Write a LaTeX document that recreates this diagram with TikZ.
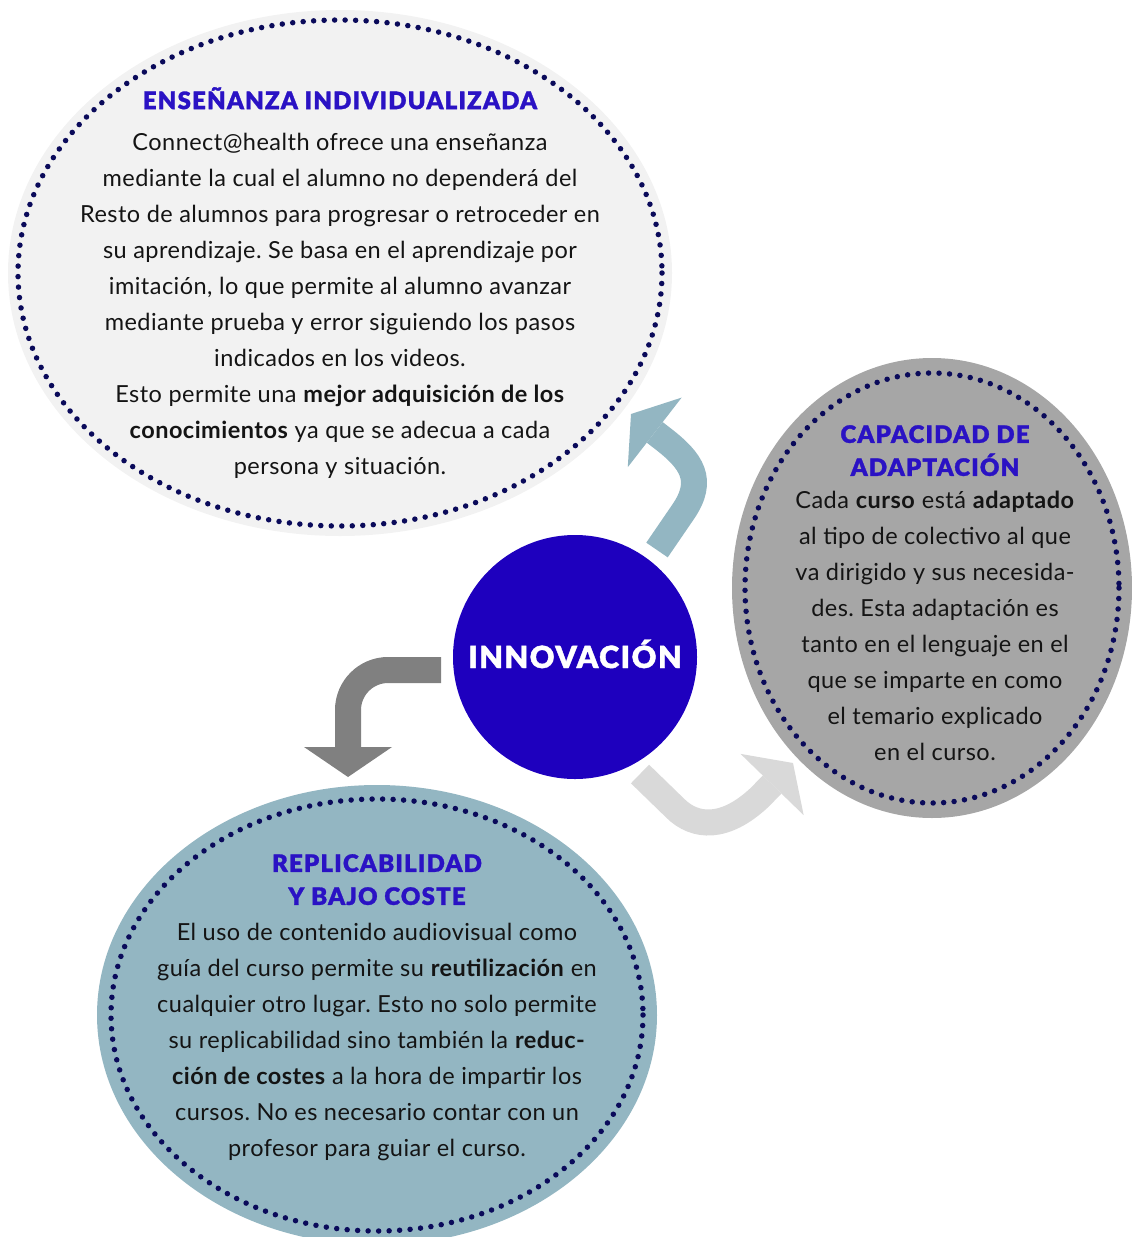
\documentclass[tikz,border=0pt]{standalone}
\usepackage{fontspec}
\setmainfont{Lato}[LetterSpace=2]
\newfontfamily\heavyfont{Lato Black}[LetterSpace=5,FakeBold=1.2]
\usetikzlibrary{arrows.meta,shapes.geometric}
\frenchspacing

\definecolor{fondoGris}{HTML}{F2F2F2}
\definecolor{fondoMedio}{HTML}{A6A6A6}
\definecolor{fondoAzul}{HTML}{93B6C2}
\definecolor{azulCentro}{HTML}{1E00BE}
\definecolor{azulTitulo}{HTML}{2A12C4}
\definecolor{puntos}{HTML}{0A0A5A}
\definecolor{flechaGris}{HTML}{808080}
\definecolor{flechaClara}{HTML}{D9D9D9}
\definecolor{texto}{HTML}{141414}

\tikzset{
  burbuja/.style={ellipse, inner sep=0pt},
  puntitos/.style={puntos, line width=5.5pt, line cap=round, dash pattern=on 0pt off 10.5pt},
  titulo/.style={align=center, inner sep=0pt, text=azulTitulo, font=\heavyfont\fontsize{24}{33}\selectfont},
  cuerpo/.style={align=center, inner sep=0pt, text=texto, font=\fontsize{23.5}{36}\selectfont},
  flecha/.style={line width=26pt, -{Triangle[length=30pt,width=88pt,line width=0pt]}}
}

\begin{document}
\begin{tikzpicture}[x=1pt,y=-1pt]
    \useasboundingbox (0,0) rectangle (1132,1237);

    % burbujas
    \node[burbuja, fill=fondoGris, minimum width=664pt, minimum height=526pt] (ensenanza) at (340,273) {};
    \node[burbuja, fill=fondoMedio, minimum width=400pt, minimum height=460pt] (adaptacion) at (932,588) {};
    \node[burbuja, fill=fondoAzul, minimum width=560pt, minimum height=460pt] (replica) at (377,1015) {};
    \node[circle, fill=azulCentro, minimum size=244pt, inner sep=0pt] (innovacion) at (575,657) {};

    \draw[puntitos] (ensenanza.center) ellipse [x radius=322, y radius=253];
    \draw[puntitos] (adaptacion.center) ellipse [x radius=187, y radius=215];
    \draw[puntitos] (replica.center) ellipse [x radius=266, y radius=216];

    % flechas
    \coordinate (f1a) at (657,550);
    \coordinate (f1b) at (631,414);
    \draw[flecha, fondoAzul] (f1a) -- (683,512) .. controls (705,480) and (692,461) .. (662,438) -- (f1b);
    \coordinate (f2a) at (441,670);
    \coordinate (f2b) at (348,777);
    \draw[flecha, flechaGris] (f2a) -- (388,670) .. controls (366,670) and (348,688) .. (348,710) -- (f2b);
    \coordinate (f3a) at (640,774);
    \coordinate (f3b) at (793,763);
    \draw[flecha, flechaClara] (f3a) -- (675,808) .. controls (695,828) and (725,830) .. (760,797) -- (f3b);

    % textos
    \node[font=\heavyfont\fontsize{30.5}{36}\selectfont, text=white, anchor=base] (tInnov) at (575,668) {INNOVACIÓN};

    \node[titulo, anchor=north] (tEnse) at (340,87) {ENSEÑANZA INDIVIDUALIZADA};
    \node[cuerpo, anchor=north] (cEnse) at (340,133) {Connect@health ofrece una enseñanza\\
      mediante la cual el alumno no dependerá del\\
      Resto de alumnos para progresar o retroceder en\\
      su aprendizaje. Se basa en el aprendizaje por\\
      imitación, lo que permite al alumno avanzar\\
      mediante prueba y error siguiendo los pasos\\
      indicados en los videos.\\
      Esto permite una \textbf{mejor adquisición de los}\\
      \textbf{conocimientos} ya que se adecua a cada\\
      persona y situación.};

    \node[titulo, anchor=north] (tAdap) at (935,425) {CAPACIDAD DE\\ADAPTACIÓN};
    \node[cuerpo, anchor=north] (cAdap) at (935,491) {Cada \textbf{curso} está \textbf{adaptado}\\
      al tipo de colectivo al que\\
      va dirigido y sus necesida-\\
      des. Esta adaptación es\\
      tanto en el lenguaje en el\\
      que se imparte en como\\
      el temario explicado\\
      en el curso.};

    \node[titulo, anchor=north] (tRepl) at (377,854) {REPLICABILIDAD\\Y BAJO COSTE};
    \node[cuerpo, anchor=north] (cRepl) at (377,923) {El uso de contenido audiovisual como\\
      guía del curso permite su \textbf{reutilización} en\\
      cualquier otro lugar. Esto no solo permite\\
      su replicabilidad sino también la \textbf{reduc-}\\
      \textbf{ción de costes} a la hora de impartir los\\
      cursos. No es necesario contar con un\\
      profesor para guiar el curso.};
\end{tikzpicture}
\end{document}
